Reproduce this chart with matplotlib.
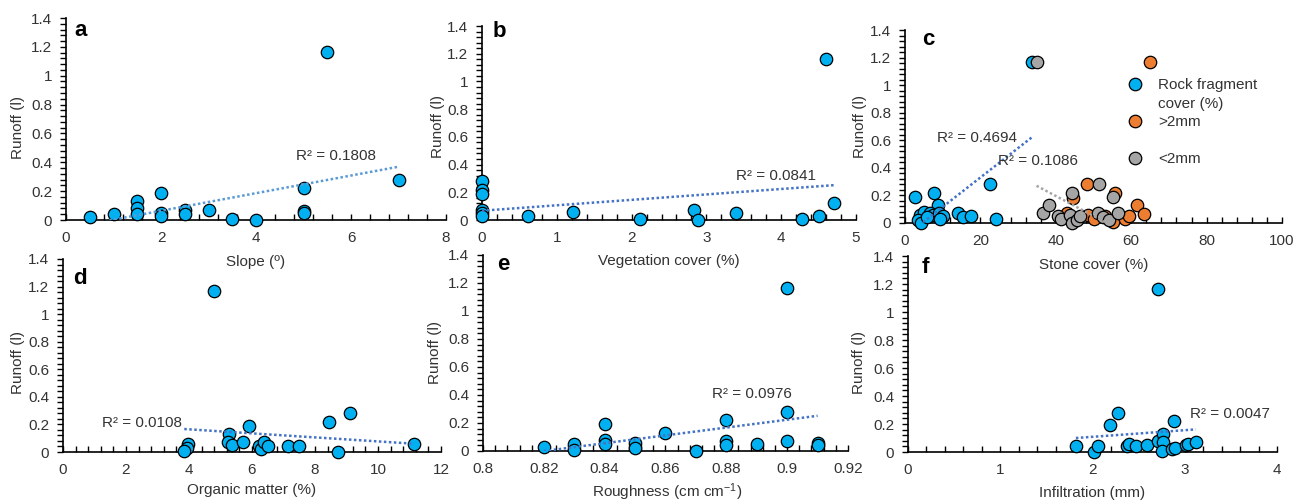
import matplotlib
matplotlib.use("Agg")
import matplotlib.pyplot as plt
from matplotlib.lines import Line2D
from matplotlib.ticker import MultipleLocator, FuncFormatter

plt.rcParams['font.family'] = ['Liberation Sans', 'DejaVu Sans']
plt.rcParams['mathtext.fontset'] = 'custom'
plt.rcParams['mathtext.rm'] = 'Liberation Sans'
plt.rcParams['mathtext.it'] = 'Liberation Sans:italic'

# runoff (l) against each plot attribute
slope = [0.5, 1, 1.5, 1.5, 1.5, 2, 2, 2, 2.5, 2.5, 3, 3.5, 4, 5, 5, 5, 5.5, 7]
runoff_a = [0.02, 0.04, 0.13, 0.08, 0.04, 0.19, 0.05, 0.03, 0.07, 0.04, 0.07, 0.01, 0.0, 0.22, 0.06, 0.05, 1.165, 0.28]

veg = [0, 0, 0, 0, 0, 0, 0.61, 1.22, 2.11, 2.83, 2.89, 3.39, 4.28, 4.50, 4.60, 4.71]
runoff_b = [0.28, 0.22, 0.19, 0.07, 0.05, 0.03, 0.03, 0.06, 0.01, 0.07, 0.0, 0.05, 0.01, 0.03, 1.165, 0.12]

rock = [2.7, 7.8, 8.7, 22.5, 24.2, 14.0, 15.4, 17.4, 4.0, 5.0, 6.6, 7.5, 9.0, 10.2, 3.5, 4.2, 5.8, 9.3, 33.6]
runoff_rock = [0.19, 0.22, 0.13, 0.28, 0.03, 0.07, 0.04, 0.05, 0.06, 0.08, 0.07, 0.06, 0.07, 0.05, 0.02, 0.0, 0.04, 0.03, 1.165]
coarse = [65.0, 48.2, 44.6, 55.7, 61.5, 63.4, 43.1, 48.6, 50.0, 55.3, 58.4, 59.5, 53.1]
runoff_coarse = [1.165, 0.28, 0.18, 0.22, 0.13, 0.065, 0.07, 0.06, 0.03, 0.01, 0.03, 0.05, 0.05]
fine = [34.9, 51.5, 44.4, 55.3, 36.5, 38.2, 40.5, 41.4, 43.7, 44.3, 45.5, 46.5, 51.2, 52.6, 54.2, 56.6]
runoff_fine = [1.165, 0.28, 0.22, 0.19, 0.07, 0.13, 0.05, 0.03, 0.06, 0.0, 0.02, 0.05, 0.07, 0.04, 0.02, 0.07]

om = [4.80, 9.11, 8.45, 5.91, 5.28, 5.25, 5.37, 5.70, 3.98, 3.93, 3.85, 6.23, 6.30, 6.38, 6.50, 7.13, 7.49, 8.74, 11.14]
runoff_d = [1.165, 0.28, 0.22, 0.19, 0.13, 0.07, 0.05, 0.07, 0.06, 0.03, 0.01, 0.04, 0.02, 0.07, 0.04, 0.04, 0.04, 0.0, 0.06]

rough = [0.82, 0.83, 0.83, 0.84, 0.84, 0.84, 0.85, 0.85, 0.86, 0.87, 0.88, 0.88, 0.88, 0.89, 0.90, 0.90, 0.90, 0.91, 0.91]
runoff_e = [0.03, 0.05, 0.01, 0.19, 0.08, 0.05, 0.06, 0.02, 0.13, 0.0, 0.22, 0.07, 0.04, 0.05, 1.165, 0.28, 0.07, 0.06, 0.04]

infil = [1.82, 2.02, 2.06, 2.19, 2.28, 2.37, 2.40, 2.47, 2.59, 2.71, 2.71, 2.76, 2.76, 2.75, 2.88, 2.86, 2.89, 3.01, 3.04, 3.12]
runoff_f = [0.04, 0.0, 0.04, 0.19, 0.28, 0.04, 0.06, 0.04, 0.05, 1.165, 0.08, 0.13, 0.07, 0.01, 0.22, 0.02, 0.03, 0.05, 0.06, 0.07]

# linear trendlines (intercept, slope) and their R²
trend_a = (-0.0585, 0.0611)
trend_b = (0.067, 0.0392)
trend_rock = (-0.0966, 0.02134)
trend_fine = (0.776, -0.0145)
trend_d = (0.2228, -0.0146)
trend_e = (-2.293, 2.796)
trend_f = (0.0139, 0.0473)
r2 = {'a': '0.1808', 'b': '0.0841', 'rock': '0.4694', 'fine': '0.1086',
      'd': '0.0108', 'e': '0.0976', 'f': '0.0047'}

BLUE = '#00B0F0'
ORANGE = '#ED7D31'
GREY = '#A5A5A5'
TXT = '#333333'
W, H = 1306, 503

fig = plt.figure(figsize=(W / 100, H / 100), dpi=100)


def px(x, y):
    return x / W, 1 - y / H


def make_axes(left, right, top, bottom, xmax, xmin, xstep):
    ax = fig.add_axes([left / W, 1 - bottom / H, (right - left) / W, (bottom - top) / H])
    ax.set_facecolor('none')
    ax.set_xlim(xmin, xmax)
    ax.set_ylim(0, 1.4)
    for s in ('top', 'right'):
        ax.spines[s].set_visible(False)
    for s in ('left', 'bottom'):
        ax.spines[s].set_linewidth(1.2)
        ax.spines[s].set_color('black')
    ax.xaxis.set_major_locator(MultipleLocator(xstep))
    ax.xaxis.set_minor_locator(MultipleLocator(xstep / 5))
    ax.yaxis.set_major_locator(MultipleLocator(0.2))
    ax.yaxis.set_minor_locator(MultipleLocator(0.04))
    fmt = FuncFormatter(lambda v, p: f"{round(v, 4):g}")
    ax.xaxis.set_major_formatter(fmt)
    ax.yaxis.set_major_formatter(fmt)
    ax.tick_params(axis='x', which='both', direction='in', length=4, width=1, pad=8,
                   labelsize=11, labelcolor=TXT)
    ax.tick_params(axis='y', which='both', direction='out', length=4, width=1, pad=6,
                   labelsize=11, labelcolor=TXT)
    return ax


def dots(ax, x, y, color=BLUE):
    ax.scatter(x, y, s=80, c=color, edgecolors='black', linewidths=0.9,
               clip_on=False, zorder=3)


def trend(ax, coef, x, color='#4472C4'):
    x0, x1 = min(x), max(x)
    ax.plot([x0, x1], [coef[0] + coef[1] * x0, coef[0] + coef[1] * x1],
            color=color, lw=1.8, ls=(0, (1, 1)), zorder=4)


def labels(ax, xlabel, xl_pos, yl_pos, letter, letter_pos):
    ax.set_xlabel(xlabel, fontsize=11, color=TXT, va='center', ha='center')
    ax.xaxis.set_label_coords(*px(*xl_pos), transform=fig.transFigure)
    ax.set_ylabel('Runoff (l)', fontsize=11, color=TXT, va='center', ha='center')
    ax.yaxis.set_label_coords(*px(*yl_pos), transform=fig.transFigure)
    ax.text(*px(*letter_pos), letter, transform=fig.transFigure, fontsize=16,
            fontweight='bold', ha='left', va='baseline')


def r2_text(ax, x, y, key):
    ax.text(x, y, f"R² = {r2[key]}", fontsize=11, color=TXT, ha='left', va='center', zorder=5)


def marker(color):
    return Line2D([], [], ls='none', marker='o', markersize=9, markerfacecolor=color,
                  markeredgecolor='black', markeredgewidth=0.9)


# a: slope
ax = make_axes(66, 446, 18, 220, 8, 0, 2)
dots(ax, slope, runoff_a)
trend(ax, trend_a, slope, color='#5B9BD5')
r2_text(ax, 4.85, 0.445, 'a')
labels(ax, 'Slope (º)', (256, 262), (18, 128), 'a', (74, 36))

# b: vegetation cover
ax = make_axes(482, 856, 26, 220, 5, 0, 1)
dots(ax, veg, runoff_b)
trend(ax, trend_b, veg)
r2_text(ax, 3.4, 0.32, 'b')
labels(ax, 'Vegetation cover (%)', (669, 261), (438, 126), 'b', (493, 37))

# c: stone cover by fraction
ax = make_axes(905, 1282, 30, 223, 100, 0, 20)
dots(ax, rock, runoff_rock, BLUE)
dots(ax, coarse, runoff_coarse, ORANGE)
dots(ax, fine, runoff_fine, GREY)
trend(ax, trend_rock, rock)
trend(ax, trend_fine, fine, color=GREY)
r2_text(ax, 8.4, 0.614, 'rock')
r2_text(ax, 24.6, 0.45, 'fine')
labels(ax, 'Stone cover (%)', (1094, 265), (860, 127), 'c', (922, 45))
blank = Line2D([], [], ls='none')
ax.legend([marker(BLUE), blank, marker(ORANGE), blank, marker(GREY)],
          ['Rock fragment', 'cover (%)', '>2mm', ' ', '<2mm'],
          loc='upper left', bbox_to_anchor=px(1129, 78), bbox_transform=fig.transFigure,
          frameon=False, fontsize=11, labelcolor=TXT, handletextpad=1.1,
          handlelength=0.8, labelspacing=0.3, borderpad=0, borderaxespad=0)

# d: organic matter
ax = make_axes(63, 441, 259, 452, 12, 0, 2)
dots(ax, om, runoff_d)
trend(ax, trend_d, om)
r2_text(ax, 1.23, 0.212, 'd')
labels(ax, 'Organic matter (%)', (252, 490), (18, 362), 'd', (73, 284))

# e: roughness
ax = make_axes(483, 848, 255, 451, 0.92, 0.8, 0.02)
dots(ax, rough, runoff_e)
trend(ax, trend_e, rough)
r2_text(ax, 0.8752, 0.405, 'e')
labels(ax, r'Roughness (cm cm$^{-1}$)', (667, 492), (435, 353), 'e', (497, 270))

# f: infiltration
ax = make_axes(908, 1277, 256, 452, 4, 0, 1)
dots(ax, infil, runoff_f)
trend(ax, trend_f, infil)
r2_text(ax, 3.057, 0.271, 'f')
labels(ax, 'Infiltration (mm)', (1092, 493), (859, 362), 'f', (922, 273))

fig.savefig('out.png', dpi=100)
